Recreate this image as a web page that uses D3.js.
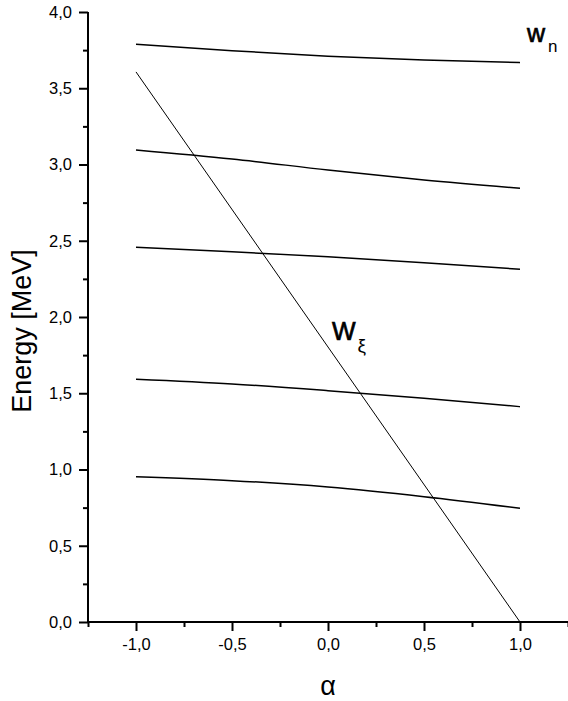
<!DOCTYPE html>
<html>
<head>
<meta charset="utf-8">
<script src="https://cdn.jsdelivr.net/npm/d3@7"></script>
<style>
body { margin: 0; background: #fff; }
text { font-family: Arial, "Liberation Sans", sans-serif; fill: #000; }
</style>
</head>
<body>
<svg width="568" height="701"></svg>
<script>
// alpha grid where the levels were read
var alphas = [-1, -0.5, 0, 0.5, 1];

// energy levels w_n (MeV)
var level1 = [0.953, 0.927, 0.885, 0.822, 0.746];
var level2 = [1.592, 1.561, 1.517, 1.467, 1.412];
var level3 = [2.457, 2.428, 2.395, 2.356, 2.313];
var level4 = [3.095, 3.036, 2.964, 2.898, 2.844];
var level5 = [3.789, 3.746, 3.710, 3.685, 3.668];

// W_xi line
var wxiAlpha = [-1, 1];
var wxiEnergy = [3.607, 0];

var xTicks = [-1, -0.5, 0, 0.5, 1];
var yTicks = [0, 0.5, 1, 1.5, 2, 2.5, 3, 3.5, 4];

var mySvg = d3.select("svg");

var x = d3.scaleLinear().domain([-1.25, 1.25]).range([88, 568]);
var y = d3.scaleLinear().domain([0, 4]).range([622, 12]);

var fmt = d => d3.format(".1f")(d).replace(".", ",").replace("−", "-");

// minor ticks first
var xMinor = d3.range(-1.25, 1.26, 0.5);
var yMinor = d3.range(0.25, 4, 0.5);

var xAxisG = mySvg.append("g").attr("transform", "translate(0,622)");
xAxisG.call(d3.axisBottom(x).tickValues(xMinor).tickSize(5).tickFormat(""));
var xMaj = mySvg.append("g").attr("transform", "translate(0,622)");
xMaj.call(d3.axisBottom(x).tickValues(xTicks).tickSize(9).tickPadding(7).tickFormat(fmt));

var yAxisG = mySvg.append("g").attr("transform", "translate(88,0)");
yAxisG.call(d3.axisLeft(y).tickValues(yMinor).tickSize(5).tickFormat(""));
var yMaj = mySvg.append("g").attr("transform", "translate(88,0)");
yMaj.call(d3.axisLeft(y).tickValues(yTicks).tickSize(9).tickPadding(7).tickFormat(fmt));

mySvg.selectAll(".domain").attr("stroke", "#000").attr("stroke-width", 2);
mySvg.selectAll(".tick line").attr("stroke", "#000").attr("stroke-width", 2);
mySvg.selectAll(".tick text").style("font-size", "16.5px");
xMaj.selectAll(".domain").attr("d", "M88,0H568");
xAxisG.selectAll(".domain").attr("d", "M88,0H568");
yMaj.selectAll(".domain").attr("d", "M0,12V622");
yAxisG.selectAll(".domain").attr("d", "M0,12V622");

var line = d3.line()
	.x(d => x(d[0]))
	.y(d => y(d[1]))
	.curve(d3.curveMonotoneX);

[level1, level2, level3, level4, level5].forEach(function (lv){
	mySvg.append("path")
		.datum(alphas.map((a, i) => [a, lv[i]]))
		.attr("d", line)
		.attr("fill", "none")
		.attr("stroke", "#000")
		.attr("stroke-width", 1.5);
});

mySvg.append("path")
	.datum(wxiAlpha.map((a, i) => [a, wxiEnergy[i]]))
	.attr("d", d3.line().x(d => x(d[0])).y(d => y(d[1])))
	.attr("fill", "none")
	.attr("stroke", "#000")
	.attr("stroke-width", 1);

// labels
var wn = mySvg.append("text").attr("x", 527).attr("y", 42).style("font-size", "25px");
wn.append("tspan").attr("stroke", "#000").attr("stroke-width", 0.7).text("w");
wn.append("tspan").attr("dy", 10).attr("dx", 3).style("font-size", "17px").text("n");

var wx = mySvg.append("text").attr("x", 332).attr("y", 340).style("font-size", "25px");
wx.append("tspan").attr("stroke", "#000").attr("stroke-width", 0.7).text("W");
wx.append("tspan").attr("dy", 12).attr("dx", 2).style("font-size", "19px").text("ξ");

mySvg.append("text")
	.attr("transform", "translate(31,331) rotate(-90)")
	.attr("text-anchor", "middle")
	.style("font-size", "27px")
	.text("Energy [MeV]");

mySvg.append("text")
	.attr("x", 328).attr("y", 695)
	.attr("text-anchor", "middle")
	.style("font-size", "27px")
	.text("α");
</script>
</body>
</html>
